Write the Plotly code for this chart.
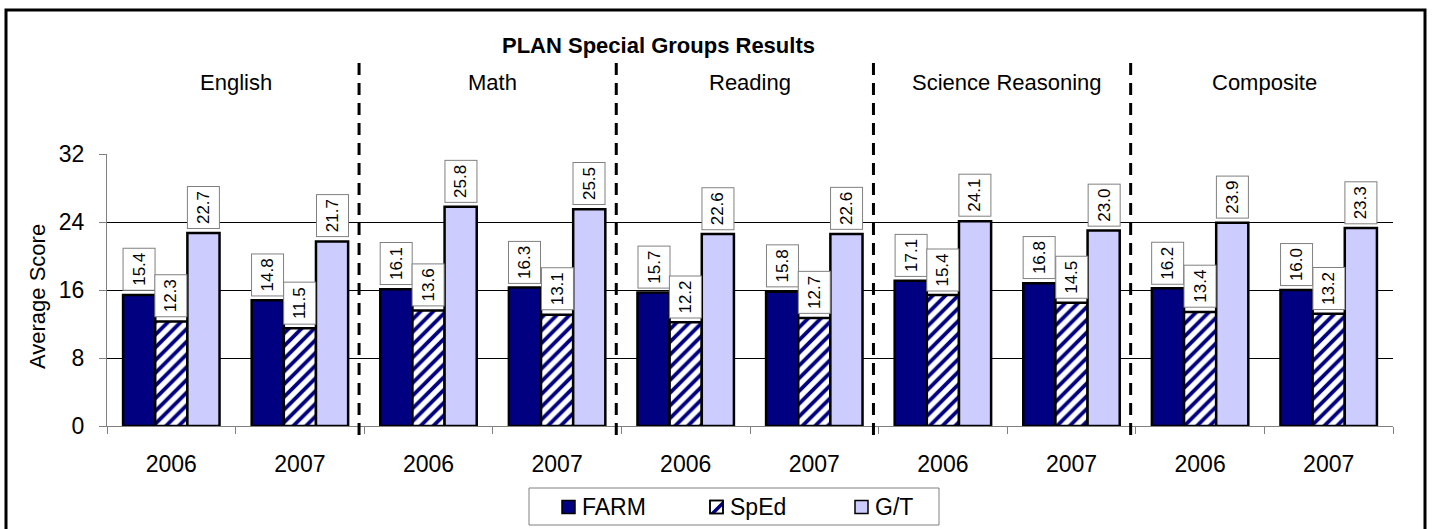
import plotly.graph_objects as go

subjects = ["English", "Math", "Reading", "Science Reasoning", "Composite"]
years = ["2006", "2007"]
farm = [15.4, 14.8, 16.1, 16.3, 15.7, 15.8, 17.1, 16.8, 16.2, 16.0]
sped = [12.3, 11.5, 13.6, 13.1, 12.2, 12.7, 15.4, 14.5, 13.4, 13.2]
gt = [22.7, 21.7, 25.8, 25.5, 22.6, 22.6, 24.1, 23.0, 23.9, 23.3]
series_names = ["FARM", "SpEd", "G/T"]
y_ticks = [0, 8, 16, 24, 32]

FONT = "Liberation Sans, Arial, sans-serif"
NAVY = "#000080"
LAV = "#CCCCFF"

# plot area geometry (px)
L, T, W, H = 107, 154, 1286, 272
FW, FH = 1432, 529


def px(xp):
    return (xp - L) / W


def py(yp):
    return (T + H - yp) / H


n = len(farm)
xs = list(range(n))
year_labels = [years[i % 2] for i in range(n)]

fig = go.Figure()
fig.add_trace(go.Bar(name=series_names[0], x=xs, y=farm,
                     marker=dict(color=NAVY, line=dict(color="black", width=2.5))))
fig.add_trace(go.Bar(name=series_names[1], x=xs, y=sped,
                     marker=dict(color="white", line=dict(color="black", width=2.5),
                                 pattern=dict(shape="/", fgcolor=NAVY, bgcolor="white",
                                              size=9, solidity=0.42, fillmode="replace"))))
fig.add_trace(go.Bar(name=series_names[2], x=xs, y=gt,
                     marker=dict(color=LAV, line=dict(color="black", width=2.5))))

# value labels
for j, series in enumerate([farm, sped, gt]):
    for i, v in enumerate(series):
        fig.add_annotation(x=i + (j - 1) * 0.25, y=v, xref="x", yref="y",
                           text=f"{v:.1f}", textangle=-90, showarrow=False,
                           xanchor="center", yanchor="bottom", yshift=4,
                           font=dict(family=FONT, size=17, color="black"),
                           bgcolor="white", bordercolor="#808080", borderwidth=1,
                           borderpad=2, width=37, height=27)

# subject labels and separators
for k, s in enumerate(subjects):
    fig.add_annotation(x=2 * k + 0.5, y=py(82), xref="x", yref="paper", text=s,
                       xanchor="center", yanchor="middle",
                       showarrow=False, font=dict(family=FONT, size=22, color="black"))
for k in range(1, len(subjects)):
    fig.add_shape(type="line", xref="x", yref="paper", x0=2 * k - 0.5 - 0.04,
                  x1=2 * k - 0.5 - 0.04, y0=py(435), y1=py(60),
                  line=dict(color="black", width=3, dash="12px,8px"))

# title
fig.add_annotation(x=px(658), y=py(45), xref="paper", yref="paper",
                   xanchor="center", yanchor="middle",
                   text="<b>PLAN Special Groups Results</b>", showarrow=False,
                   font=dict(family=FONT, size=22, color="black"))
# y-axis title
fig.add_annotation(x=px(37), y=py(297), xref="paper", yref="paper", text="Average Score",
                   xanchor="center", yanchor="middle",
                   textangle=-90, showarrow=False,
                   font=dict(family=FONT, size=22, color="black"))
# outer border
fig.add_shape(type="rect", xref="paper", yref="paper", x0=px(6), x1=px(1425),
              y0=py(560), y1=py(10), line=dict(color="black", width=3), layer="below")

# legend (drawn manually)
fig.add_shape(type="rect", xref="paper", yref="paper", x0=px(529), x1=px(939),
              y0=py(525), y1=py(488), line=dict(color="#808080", width=1),
              fillcolor="white")
leg_sq = [562, 710, 855]
leg_cy = 507
for name, sx in zip(series_names, leg_sq):
    if name == "SpEd":
        fig.add_shape(type="rect", xref="paper", yref="paper", x0=px(sx), x1=px(sx + 13),
                      y0=py(leg_cy + 6.5), y1=py(leg_cy - 6.5),
                      line=dict(color="black", width=1.5), fillcolor="white")
        fig.add_shape(type="path", xref="paper", yref="paper",
                      path=(f"M {px(sx)},{py(leg_cy + 6.5)} L {px(sx + 5)},{py(leg_cy + 6.5)} "
                            f"L {px(sx + 13)},{py(leg_cy - 1.5)} L {px(sx + 13)},{py(leg_cy - 6.5)} Z"),
                      line=dict(width=0), fillcolor=NAVY)
        fig.add_shape(type="rect", xref="paper", yref="paper", x0=px(sx), x1=px(sx + 13),
                      y0=py(leg_cy + 6.5), y1=py(leg_cy - 6.5),
                      line=dict(color="black", width=1.5))
    else:
        fig.add_shape(type="rect", xref="paper", yref="paper", x0=px(sx), x1=px(sx + 13),
                      y0=py(leg_cy + 6.5), y1=py(leg_cy - 6.5),
                      line=dict(color="black", width=1.5),
                      fillcolor=NAVY if name == "FARM" else LAV)
    fig.add_annotation(x=px(sx + 18), y=py(leg_cy), xref="paper", yref="paper", text=name,
                       xanchor="left", yanchor="middle", showarrow=False,
                       font=dict(family=FONT, size=23, color="black"))

fig.update_layout(
    width=FW, height=FH,
    margin=dict(l=L, r=FW - L - W, t=T, b=FH - T - H),
    paper_bgcolor="white", plot_bgcolor="white",
    barmode="group", bargap=0.25, bargroupgap=0,
    font=dict(family=FONT, size=22, color="black"),
    showlegend=False,
)
fig.update_xaxes(range=[-0.5, n - 0.5], tickvals=xs, ticktext=year_labels,
                 ticks="", showgrid=False, showline=True, linecolor="#808080", linewidth=1,
                 zeroline=False, ticklabelstandoff=17,
                 minor=dict(tick0=0.5, dtick=1, ticks="outside", ticklen=7,
                            tickcolor="#808080", showgrid=False),
                 tickfont=dict(family=FONT, size=23))
fig.update_yaxes(range=[0, 32], tickvals=y_ticks, showgrid=True, gridcolor="black",
                 gridwidth=1, showline=True, linecolor="#808080", linewidth=1,
                 ticks="outside", ticklen=7, tickcolor="#808080", zeroline=False,
                 ticklabelstandoff=10, tickfont=dict(family=FONT, size=23))

fig.write_html("out.html", config={"displayModeBar": False},
               post_script="document.body.style.margin='0px';")
